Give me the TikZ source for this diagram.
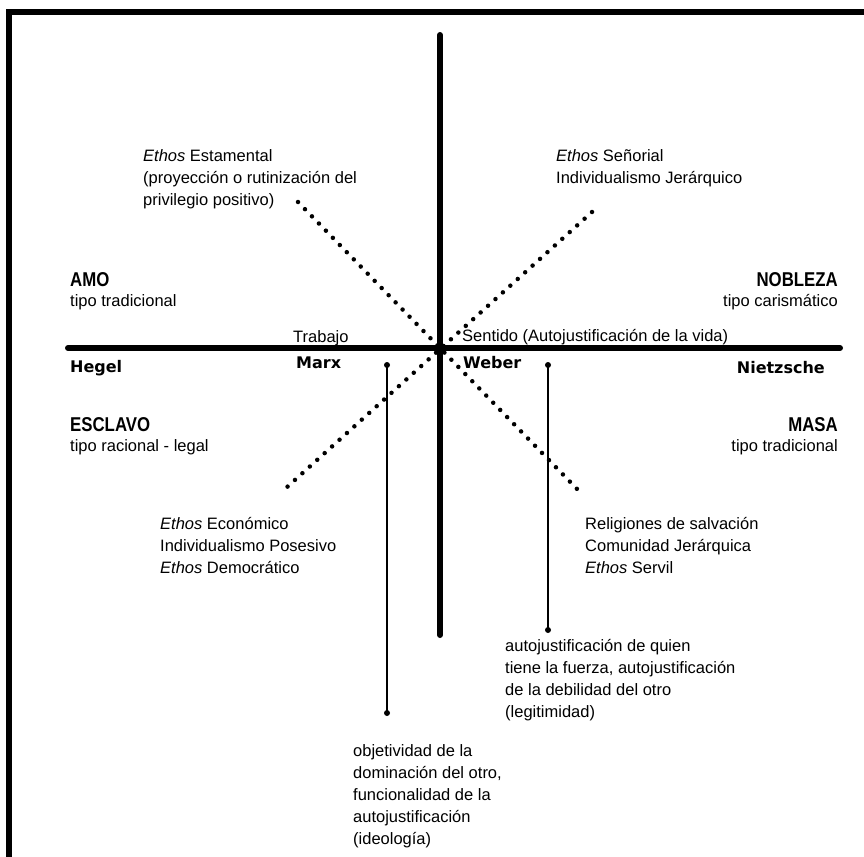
\documentclass[tikz,border=0pt]{standalone}
\usepackage{fontspec}
\setmainfont{Liberation Sans}
\newfontfamily\heavyfont{DejaVu Sans}
\newfontfamily\narrowfont[FakeStretch=0.84]{Liberation Sans}
\begin{document}
\begin{tikzpicture}[x=1pt,y=-1pt,
  txt/.style={inner sep=0pt,font=\fontsize{16.5}{22}\selectfont},
  blk/.style={txt,align=left,anchor=north west},
  heavy/.style={inner sep=0pt,font=\heavyfont\fontsize{16}{20}\selectfont\bfseries},
  head/.style={inner sep=0pt,font=\narrowfont\fontsize{20}{22}\selectfont\bfseries},
  axis/.style={line width=6pt,line cap=round},
  dots/.style={line width=4.5pt,line cap=round,dash pattern=on 0pt off 10pt},
  thin/.style={line width=1.5pt},
  enddot/.style={circle,fill,inner sep=0pt,minimum size=6pt}]
\useasboundingbox (0,0) rectangle (864,856);
% frame
\draw[line width=6pt] (9,870) -- (9,12) -- (880,12);
% axes
\coordinate (vt) at (440,35);
\coordinate (vb) at (440,635);
\coordinate (hl) at (68,348);
\coordinate (hr) at (840,348);
\draw[axis] (vt) -- (vb);
\draw[axis] (hl) -- (hr);
% dotted diagonals
\coordinate (d1a) at (298,202);
\coordinate (d1b) at (580,492);
\coordinate (d2a) at (592,212);
\coordinate (d2b) at (286,488);
\draw[dots] (d1a) -- (d1b);
\draw[dots] (d2a) -- (d2b);
% thin vertical lines
\node[enddot] (m1) at (387,365) {};
\node[enddot] (m2) at (387,713) {};
\node[enddot] (w1) at (548,365) {};
\node[enddot] (w2) at (548,630) {};
\draw[thin] (m1.center) -- (m2.center);
\draw[thin] (w1.center) -- (w2.center);
% texts
\node[blk] (est) at (143,149) {\textit{Ethos} Estamental\\(proyección o rutinización del\\privilegio positivo)};
\node[blk] (sen) at (556,149) {\textit{Ethos} Señorial\\Individualismo Jerárquico};
\node[head,anchor=west] (amo) at (70,280) {AMO};
\node[txt,anchor=west] (amot) at (70,302) {tipo tradicional};
\node[head,anchor=east] (nob) at (838,280) {NOBLEZA};
\node[txt,anchor=east] (nobt) at (838,302) {tipo carismático};
\node[txt,anchor=west] (trab) at (293,338) {Trabajo};
\node[txt,anchor=west] (sent) at (462,337) {Sentido (Autojustificación de la vida)};
\node[heavy,anchor=west] (heg) at (70,368) {Hegel};
\node[heavy,anchor=west] (mar) at (296,363) {Marx};
\node[heavy,anchor=west] (web) at (463,363) {Weber};
\node[heavy,anchor=east] (nie) at (825,368) {Nietzsche};
\node[head,anchor=west] (esc) at (70,425) {ESCLAVO};
\node[txt,anchor=west] (esct) at (70,447) {tipo racional - legal};
\node[head,anchor=east] (mas) at (838,425) {MASA};
\node[txt,anchor=east] (mast) at (838,447) {tipo tradicional};
\node[blk] (eco) at (160,517) {\textit{Ethos} Económico\\Individualismo Posesivo\\\textit{Ethos} Democrático};
\node[blk] (rel) at (585,517) {Religiones de salvación\\Comunidad Jerárquica\\\textit{Ethos} Servil};
\node[blk] (aut) at (505,639) {autojustificación de quien\\tiene la fuerza, autojustificación\\de la debilidad del otro\\(legitimidad)};
\node[blk] (obj) at (353,744) {objetividad de la\\dominación del otro,\\funcionalidad de la\\autojustificación\\(ideología)};
\end{tikzpicture}
\end{document}
